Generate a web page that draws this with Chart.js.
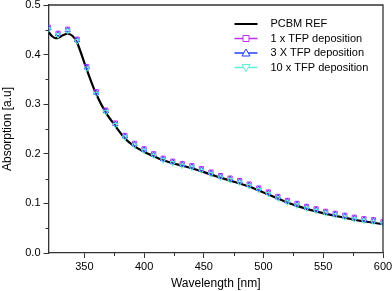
<!DOCTYPE html>
<html>
<head>
<meta charset="utf-8">
<script src="https://cdn.jsdelivr.net/npm/chart.js@4"></script>
<style>
  html, body { margin: 0; padding: 0; background: #fff; }
  #wrap { width: 392px; height: 291px; }
</style>
</head>
<body>
<div id="wrap"><canvas id="chart-canvas"></canvas></div>
<script>
// ### data ###
const REF_WAVELENGTH = [320, 323, 326, 329, 332, 336, 340, 344, 352, 360, 368, 376, 384, 392, 400, 408, 416, 424, 432, 440, 448, 456, 464, 472, 480, 488, 496, 504, 512, 520, 528, 536, 544, 552, 560, 568, 576, 584, 592, 600];
const REF_ABS = [0.446, 0.437, 0.433, 0.435, 0.439, 0.442, 0.438, 0.424, 0.370, 0.320, 0.283, 0.256, 0.231, 0.215, 0.204, 0.195, 0.187, 0.181, 0.176, 0.171, 0.165, 0.158, 0.152, 0.146, 0.140, 0.134, 0.126, 0.118, 0.110, 0.102, 0.095, 0.089, 0.084, 0.079, 0.075, 0.071, 0.067, 0.064, 0.061, 0.058];

const WAVELENGTH = [320, 328, 336, 344, 352, 360, 368, 376, 384, 392, 400, 408, 416, 424, 432, 440, 448, 456, 464, 472, 480, 488, 496, 504, 512, 520, 528, 536, 544, 552, 560, 568, 576, 584, 592, 600];
const TFP_1X = [0.455, 0.443, 0.451, 0.431, 0.376, 0.325, 0.288, 0.262, 0.237, 0.221, 0.210, 0.200, 0.191, 0.185, 0.180, 0.176, 0.170, 0.163, 0.156, 0.151, 0.146, 0.139, 0.131, 0.123, 0.114, 0.106, 0.100, 0.094, 0.089, 0.084, 0.080, 0.076, 0.072, 0.069, 0.067, 0.063];
const TFP_3X = [0.453, 0.441, 0.449, 0.429, 0.374, 0.323, 0.286, 0.260, 0.235, 0.219, 0.208, 0.198, 0.189, 0.183, 0.178, 0.174, 0.168, 0.161, 0.154, 0.149, 0.144, 0.137, 0.129, 0.121, 0.112, 0.104, 0.098, 0.092, 0.087, 0.082, 0.078, 0.074, 0.070, 0.067, 0.065, 0.061];
const TFP_10X = [0.451, 0.439, 0.447, 0.427, 0.372, 0.321, 0.284, 0.258, 0.233, 0.217, 0.206, 0.196, 0.187, 0.181, 0.176, 0.172, 0.166, 0.159, 0.152, 0.147, 0.142, 0.135, 0.127, 0.119, 0.110, 0.102, 0.096, 0.090, 0.085, 0.080, 0.076, 0.072, 0.068, 0.065, 0.063, 0.059];

const SERIES_NAMES = ["PCBM REF", "1 x TFP deposition", "3 X TFP deposition", "10 x TFP deposition"];

// ### colors ###
const BLACK = "#000000";
const MAGENTA = "#c030f0";
const BLUE = "#2040ff";
const CYAN = "#60f0d8";

const FONT = "'Liberation Sans', Arial, sans-serif";

function toPoints(xs, ys) {
  return xs.map((x, i) => ({ x: x, y: ys[i] }));
}

function isMultiple(value, step) {
  const r = value / step;
  return Math.abs(r - Math.round(r)) < 1e-6;
}

// draws the box, minor ticks and the legend
const decorations = {
  id: "decorations",
  afterDraw(chart) {
    const ctx = chart.ctx;
    const area = chart.chartArea;
    const xScale = chart.scales.x;
    const yScale = chart.scales.y;
    ctx.save();
    ctx.strokeStyle = "#333";
    ctx.lineWidth = 1.3;
    ctx.beginPath();
    ctx.moveTo(area.left, area.top);
    ctx.lineTo(area.right, area.top);
    ctx.lineTo(area.right, area.bottom);
    ctx.stroke();

    // minor ticks
    ctx.lineWidth = 1;
    ctx.strokeStyle = "#333";
    xScale.ticks.forEach((t) => {
      if (isMultiple(t.value, 25) && !isMultiple(t.value, 50)) {
        const px = Math.round(xScale.getPixelForValue(t.value)) + 0.5;
        ctx.beginPath();
        ctx.moveTo(px, area.bottom);
        ctx.lineTo(px, area.bottom + 3);
        ctx.stroke();
      }
    });
    yScale.ticks.forEach((t) => {
      if (!isMultiple(t.value, 0.1)) {
        const py = Math.round(yScale.getPixelForValue(t.value)) + 0.5;
        ctx.beginPath();
        ctx.moveTo(area.left, py);
        ctx.lineTo(area.left - 3, py);
        ctx.stroke();
      }
    });

    // legend
    const styles = [
      { color: BLACK, marker: null, width: 2 },
      { color: MAGENTA, marker: "rect", width: 1.5 },
      { color: BLUE, marker: "triangle", width: 1.5 },
      { color: CYAN, marker: "down", width: 1.5 },
    ];
    const lx0 = area.left + 186;
    const lx1 = lx0 + 23;
    const tx = lx1 + 13;
    let ly = area.top + 19;
    ctx.font = "11px " + FONT;
    ctx.textBaseline = "middle";
    ctx.textAlign = "left";
    SERIES_NAMES.forEach((name, i) => {
      const s = styles[i];
      ctx.strokeStyle = s.color;
      ctx.lineWidth = s.width;
      ctx.beginPath();
      ctx.moveTo(lx0, ly);
      ctx.lineTo(lx1, ly);
      ctx.stroke();
      if (s.marker) {
        const cx = (lx0 + lx1) / 2;
        ctx.fillStyle = "#fff";
        ctx.lineWidth = 1;
        ctx.beginPath();
        if (s.marker === "rect") {
          ctx.rect(cx - 3, ly - 3, 6, 6);
        } else if (s.marker === "triangle") {
          ctx.moveTo(cx, ly - 4);
          ctx.lineTo(cx + 4, ly + 3);
          ctx.lineTo(cx - 4, ly + 3);
          ctx.closePath();
        } else {
          ctx.moveTo(cx, ly + 4);
          ctx.lineTo(cx + 4, ly - 3);
          ctx.lineTo(cx - 4, ly - 3);
          ctx.closePath();
        }
        ctx.fill();
        ctx.stroke();
      }
      ctx.fillStyle = "#000";
      ctx.fillText(name, tx, ly);
      ly += 14.5;
    });
    ctx.restore();
  },
};

function markerDataset(label, data, color, style, rotation) {
  return {
    label: label,
    data: toPoints(WAVELENGTH, data),
    borderColor: color,
    backgroundColor: "rgba(255,255,255,0)",
    borderWidth: 1,
    pointStyle: style,
    pointRotation: rotation,
    pointRadius: 3,
    pointBorderWidth: 1,
    showLine: false,
    order: 1,
  };
}

function renderChart() {
  const chartCanvas = document.getElementById("chart-canvas");
  new Chart(chartCanvas, {
    type: "scatter",
    data: {
      datasets: [
        {
          label: SERIES_NAMES[0],
          data: toPoints(REF_WAVELENGTH, REF_ABS),
          borderColor: BLACK,
          borderWidth: 2.2,
          pointRadius: 0,
          showLine: true,
          tension: 0.3,
          order: 5,
        },
        markerDataset(SERIES_NAMES[3], TFP_10X, CYAN, "triangle", 180),
        markerDataset(SERIES_NAMES[2], TFP_3X, BLUE, "triangle", 0),
        markerDataset(SERIES_NAMES[1], TFP_1X, MAGENTA, "rect", 0),
      ],
    },
    options: {
      responsive: true,
      maintainAspectRatio: false,
      animation: false,
      events: [],
      layout: {
        padding: { left: 0, top: 5, right: 9, bottom: 0 },
      },
      plugins: {
        legend: { display: false },
        tooltip: { enabled: false },
      },
      scales: {
        x: {
          type: "linear",
          min: 320,
          max: 600,
          afterFit: (scale) => {
            scale.height = 38;
            scale.paddingLeft = 0;
            scale.paddingRight = 0;
          },
          afterBuildTicks: (scale) => {
            scale.ticks = scale.ticks.filter((t) => isMultiple(t.value, 25));
          },
          ticks: {
            stepSize: 25,
            autoSkip: false,
            maxRotation: 0,
            padding: 2,
            color: "#000",
            font: { family: FONT, size: 11 },
            callback: (v) => (isMultiple(v, 50) ? String(v) : ""),
          },
          grid: {
            drawOnChartArea: false,
            tickLength: 5,
            tickColor: (c) => (c.tick && isMultiple(c.tick.value, 50) ? "#333" : "rgba(0,0,0,0)"),
          },
          border: { color: "#333", width: 1.3 },
          title: {
            display: true,
            text: "Wavelength [nm]",
            color: "#000",
            font: { family: FONT, size: 12 },
            padding: { top: 2, bottom: 0 },
          },
        },
        y: {
          min: 0,
          max: 0.5,
          afterFit: (scale) => {
            scale.width = 48.5;
            scale.paddingTop = 0;
            scale.paddingBottom = 0;
          },
          ticks: {
            stepSize: 0.05,
            autoSkip: false,
            padding: 3,
            color: "#000",
            font: { family: FONT, size: 11 },
            callback: (v) => (isMultiple(v, 0.1) ? v.toFixed(1) : ""),
          },
          grid: {
            drawOnChartArea: false,
            tickLength: 5,
            tickColor: (c) => (c.tick && isMultiple(c.tick.value, 0.1) ? "#333" : "rgba(0,0,0,0)"),
          },
          border: { color: "#333", width: 1.3 },
          title: {
            display: true,
            text: "Absorption [a.u]",
            color: "#000",
            font: { family: FONT, size: 12 },
            padding: { top: 0, bottom: 2 },
          },
        },
      },
    },
    plugins: [decorations],
  });
}

renderChart();
</script>
</body>
</html>
